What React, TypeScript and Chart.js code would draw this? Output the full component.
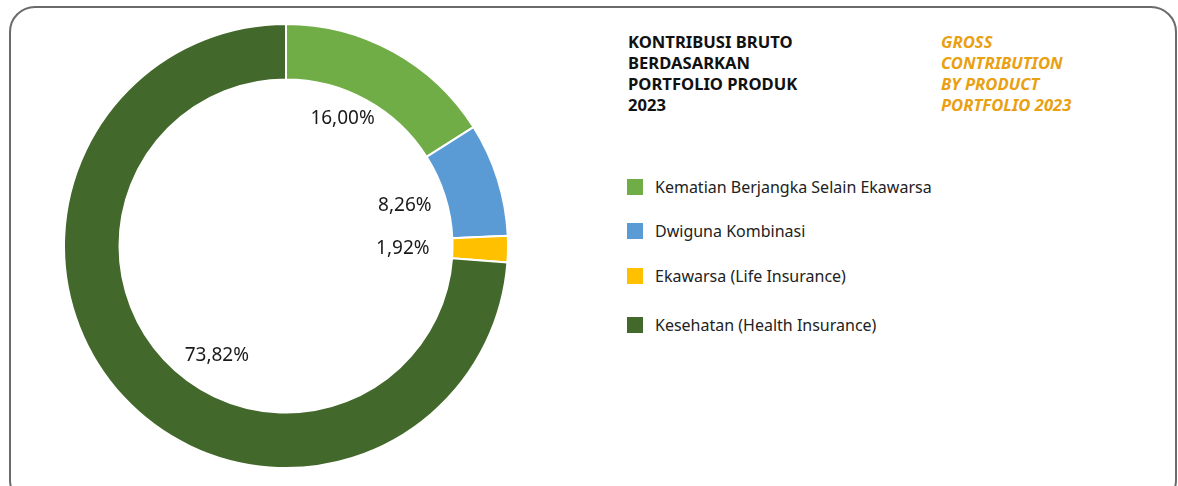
import React, { useEffect, useRef } from "react";
import { Chart, registerables } from "chart.js";

Chart.register(...registerables);

const categories = [
  "Kematian Berjangka Selain Ekawarsa",
  "Dwiguna Kombinasi",
  "Ekawarsa (Life Insurance)",
  "Kesehatan (Health Insurance)",
];
const shares = [16.0, 8.26, 1.92, 73.82];
const valueLabels = ["16,00%", "8,26%", "1,92%", "73,82%"];
const colors = ["#70AD47", "#5B9BD5", "#FFC000", "#43682B"];
const titleLines = ["KONTRIBUSI BRUTO", "BERDASARKAN", "PORTFOLIO PRODUK", "2023"];
const subtitleLines = ["GROSS", "CONTRIBUTION", "BY PRODUCT", "PORTFOLIO 2023"];

// style: label nudges (px) relative to base position in the hole
const labelNudge: [number, number][] = [
  [-6, -14],
  [-5, -1],
  [-13, 1],
  [26, 21],
];
const legendTops = [179, 223, 268, 317];

const FONT = "'Noto Sans', sans-serif";

const labelPlugin = {
  id: "innerLabels",
  afterDatasetsDraw(chart: any) {
    const ctx = chart.ctx;
    const meta = chart.getDatasetMeta(0);
    ctx.save();
    ctx.font = `19px ${FONT}`;
    ctx.fillStyle = "#1a1a1a";
    ctx.textAlign = "center";
    ctx.textBaseline = "middle";
    meta.data.forEach((arc: any, i: number) => {
      const p = arc.getProps(["startAngle", "endAngle", "innerRadius", "x", "y"], true);
      const mid = (p.startAngle + p.endAngle) / 2;
      const r = p.innerRadius * 0.78;
      const x = p.x + Math.cos(mid) * r + labelNudge[i][0];
      const y = p.y + Math.sin(mid) * r + labelNudge[i][1];
      ctx.fillText(valueLabels[i], x, y);
    });
    ctx.restore();
  },
};

export default function App() {
  const ref = useRef<HTMLCanvasElement | null>(null);
  useEffect(() => {
    document.body.style.margin = "0";
    if (!ref.current) return;
    const chart = new Chart(ref.current, {
      type: "doughnut",
      data: {
        labels: categories,
        datasets: [
          {
            data: shares,
            backgroundColor: colors,
            borderColor: "#ffffff",
            borderWidth: 2,
          },
        ],
      },
      options: {
        responsive: false,
        maintainAspectRatio: false,
        animation: false,
        cutout: "75%",
        layout: { padding: 0 },
        plugins: {
          legend: { display: false },
          tooltip: { enabled: false },
          title: { display: false },
        },
      },
      plugins: [labelPlugin],
    });
    return () => chart.destroy();
  }, []);

  return (
    <div
      style={{
        position: "fixed",
        left: 0,
        top: 0,
        width: 1178,
        height: 486,
        overflow: "hidden",
        background: "#ffffff",
        fontFamily: FONT,
      }}
    >
      <div
        style={{
          position: "absolute",
          left: 9,
          top: 6,
          width: 1168,
          height: 500,
          border: "2px solid #6b6b6b",
          borderRadius: 26,
          boxSizing: "border-box",
        }}
      />
      <canvas
        ref={ref}
        width={446}
        height={448}
        style={{ position: "absolute", left: 63, top: 22, width: 446, height: 448 }}
      />
      <div
        style={{
          position: "absolute",
          left: 628,
          top: 31,
          fontWeight: 700,
          fontSize: 16.6,
          lineHeight: "21px",
          color: "#111",
        }}
      >
        {titleLines.map((t, i) => (
          <div key={i}>{t}</div>
        ))}
      </div>
      <div
        style={{
          position: "absolute",
          left: 941,
          top: 31,
          fontWeight: 700,
          fontStyle: "italic",
          fontSize: 16.6,
          lineHeight: "21px",
          color: "#E9A012",
        }}
      >
        {subtitleLines.map((t, i) => (
          <div key={i}>{t}</div>
        ))}
      </div>
      {categories.map((c, i) => (
        <div key={i}>
          <div
            style={{
              position: "absolute",
              left: 627,
              top: legendTops[i],
              width: 16,
              height: 16,
              background: colors[i],
            }}
          />
          <div
            style={{
              position: "absolute",
              left: 655,
              top: legendTops[i] - 4,
              fontSize: 16,
              lineHeight: "24px",
              color: "#222",
              whiteSpace: "nowrap",
            }}
          >
            {c}
          </div>
        </div>
      ))}
    </div>
  );
}
